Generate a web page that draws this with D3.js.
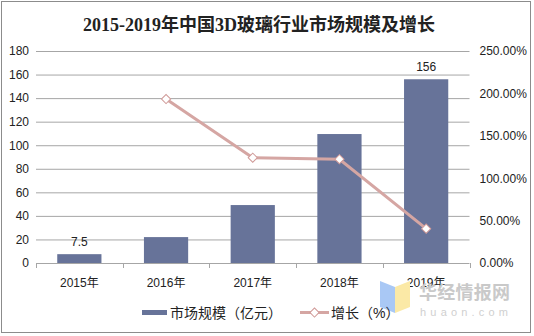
<!DOCTYPE html>
<html><head><meta charset="utf-8">
<script src="https://cdn.jsdelivr.net/npm/d3@7"></script>
<style>body{margin:0;background:#fff}svg{display:block}</style>
</head><body>
<svg id="c" width="534" height="336"></svg>
<script>
const categories = ["2015年","2016年","2017年","2018年","2019年"];
const marketSize = [7.5, 22, 49.2, 109.5, 156];
const growth = [null, 193.3, 124.2, 122.4, 40.5];
const leftTicks = [0,20,40,60,80,100,120,140,160,180];
const rightTicks = [0,50,100,150,200,250];
const barLabels = [{i:0,text:"7.5"},{i:4,text:"156"}];

const svg = d3.select("#c");
const font = "Arial, 'Liberation Sans', 'Noto Sans CJK SC', sans-serif";
const L = 36, R = 469.5, T = 51, B = 263;

svg.append("rect").attr("x",1.5).attr("y",1.5).attr("width",529).attr("height",331)
  .attr("fill","#fff").attr("stroke","#8c8c8c").attr("stroke-width",1);

svg.append("text").attr("x",259).attr("y",31).attr("text-anchor","middle")
  .attr("font-family","'Liberation Serif','Noto Sans CJK SC',serif").attr("font-weight","bold")
  .attr("font-size",18).attr("fill","#222").text("2015-2019年中国3D玻璃行业市场规模及增长");

const x = d3.scaleBand().domain(categories).range([L,R]).paddingInner(0.49).paddingOuter(0.245);
const xb = d3.scaleBand().domain(categories).range([L,R]);
const y = d3.scaleLinear().domain([0,180]).range([B,T]);
const y2 = d3.scaleLinear().domain([0,250]).range([B,T]);

// gridlines
svg.append("g").selectAll("line").data(leftTicks.filter(d=>d>0)).join("line")
  .attr("x1",L).attr("x2",R).attr("y1",d=>y(d)+0.5).attr("y2",d=>y(d)+0.5)
  .attr("stroke","#a6a6a6").attr("stroke-width",1);

// left axis
const ga = svg.append("g").attr("transform",`translate(${L},0)`)
  .call(d3.axisLeft(y).tickValues(leftTicks).tickSize(0).tickPadding(7));
ga.select(".domain").remove();
ga.selectAll("text").attr("font-family",font).attr("font-size",12).attr("fill","#222");

// right axis
const gr = svg.append("g").attr("transform",`translate(${R},0)`)
  .call(d3.axisRight(y2).tickValues(rightTicks).tickSize(0).tickPadding(10).tickFormat(d=>d.toFixed(2)+"%"));
gr.select(".domain").remove();
gr.selectAll("text").attr("font-family",font).attr("font-size",12).attr("fill","#222");

// bars
svg.append("g").selectAll("rect").data(marketSize).join("rect")
  .attr("x",(d,i)=>x(categories[i])).attr("width",x.bandwidth())
  .attr("y",d=>y(d)).attr("height",d=>B-y(d)).attr("fill","#677399");

// x axis
svg.append("line").attr("x1",L).attr("x2",R).attr("y1",B+0.5).attr("y2",B+0.5).attr("stroke","#a6a6a6");
svg.append("g").selectAll("line").data(d3.range(categories.length+1)).join("line")
  .attr("x1",i=>Math.round(L+i*xb.step())+0.5).attr("x2",i=>Math.round(L+i*xb.step())+0.5)
  .attr("y1",B).attr("y2",B+5).attr("stroke","#a6a6a6");
svg.append("g").selectAll("text").data(categories).join("text")
  .attr("x",d=>xb(d)+xb.bandwidth()/2).attr("y",287).attr("text-anchor","middle")
  .attr("font-family",font).attr("font-size",12).attr("fill","#222").text(d=>d);

// bar labels
svg.append("g").selectAll("text").data(barLabels).join("text")
  .attr("x",d=>xb(categories[d.i])+xb.bandwidth()/2).attr("y",d=>y(marketSize[d.i])-8)
  .attr("text-anchor","middle").attr("font-family",font).attr("font-size",12).attr("fill","#222").text(d=>d.text);

// line
const pts = growth.map((g,i)=>({g,i})).filter(d=>d.g!==null);
const line = d3.line().x(d=>xb(categories[d.i])+xb.bandwidth()/2).y(d=>y2(d.g));
svg.append("path").datum(pts).attr("d",line).attr("fill","none")
  .attr("stroke","#d5a6a3").attr("stroke-width",3);
const diamond = d3.symbol().type(d3.symbolDiamond2).size(60);
svg.append("g").selectAll("path").data(pts).join("path")
  .attr("transform",d=>`translate(${xb(categories[d.i])+xb.bandwidth()/2},${y2(d.g)}) rotate(45)`)
  .attr("d",d3.symbol().type(d3.symbolSquare).size(42))
  .attr("fill","#fff").attr("stroke","#d09a98").attr("stroke-width",1);

// watermark
const wm = svg.append("g");
wm.append("path").attr("d","M380,281 L395,287 L395,313 L380,307 Z").attr("fill","#a9c8f5");
wm.append("path").attr("d","M395,287 L410,281 L410,307 L395,313 Z").attr("fill","#fbe9a6");
wm.append("text").attr("x",419).attr("y",299).attr("font-family","'Noto Sans CJK SC',sans-serif")
  .attr("font-weight","bold").attr("font-size",18).attr("fill","#c9c9c9").attr("textLength",91).text("华经情报网");
wm.append("text").attr("x",420).attr("y",316).attr("font-family",font)
  .attr("font-size",11).attr("fill","#d0d0d0").attr("textLength",88).text("huaon.com");

// legend
const lg = svg.append("g");
lg.append("rect").attr("x",142).attr("y",310).attr("width",25).attr("height",5).attr("fill","#677399");
lg.append("text").attr("x",170).attr("y",318).attr("font-family",font).attr("font-size",14).attr("fill","#222").text("市场规模（亿元）");
lg.append("line").attr("x1",300).attr("x2",329).attr("y1",312.5).attr("y2",312.5).attr("stroke","#d5a6a3").attr("stroke-width",3);
lg.append("path").attr("transform","translate(314.5,312.5) rotate(45)").attr("d",d3.symbol().type(d3.symbolSquare).size(42))
  .attr("fill","#fff").attr("stroke","#d09a98");
lg.append("text").attr("x",331).attr("y",318).attr("font-family",font).attr("font-size",14).attr("fill","#222").text("增长（%）");
</script>
</body></html>
